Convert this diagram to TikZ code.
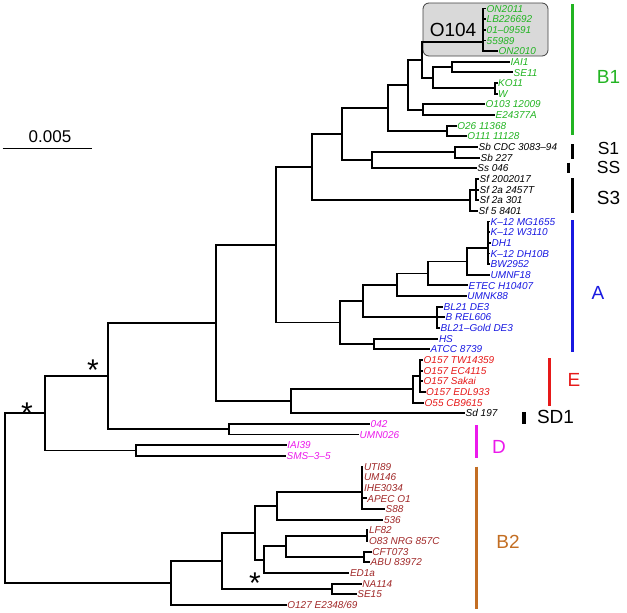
\documentclass[tikz,border=0pt]{standalone}
\usepackage{fontspec}
\setmainfont{Liberation Sans}
\definecolor{cB1}{RGB}{34,180,34}
\definecolor{cA}{RGB}{25,25,225}
\definecolor{cE}{RGB}{230,25,25}
\definecolor{cD}{RGB}{235,25,235}
\definecolor{cB2}{RGB}{160,40,40}
\definecolor{cBtwo}{RGB}{195,110,35}
\newcommand\mkleaf[6]{%
  \coordinate (#2) at (#3,#4);
  \draw[br] (#1) |- (#2);
  \node[leaf,text=#5] (#2l) at (#2) {#6};}
\begin{document}
\begin{tikzpicture}[x=1pt,y=-1pt,
  br/.style={line width=1.9pt},
  leaf/.style={anchor=west,font=\fontsize{10}{10}\selectfont\itshape,inner xsep=0.5pt,inner ysep=0pt,text height=7.2pt,text depth=0pt},
  clade/.style={font=\fontsize{19}{19}\selectfont,inner sep=0pt,text height=13.6pt,text depth=0pt},
  sclade/.style={font=\fontsize{17.5}{17.5}\selectfont,inner sep=0pt,text height=12.5pt,text depth=0pt},
  bar/.style={line width=3pt},
  ast/.style={anchor=base,font=\fontsize{30}{30}\selectfont,inner sep=0pt}]
\useasboundingbox (0,0) rectangle (627,613);
% O104 box
\node[draw=black!75,fill=black!15,rounded corners=6pt,line width=0.8pt,minimum width=125pt,minimum height=53pt,inner sep=0pt] (obox) at (485.5,29.5) {};
\node[clade] (o104lab) at (453,30) {O104};
% internal nodes
\coordinate (root) at (4.7,498.1);
\coordinate (A) at (44.7,413.3);
\coordinate (B) at (108.3,376.1);
\coordinate (C) at (216,323);
\coordinate (F) at (276,244.85);
\coordinate (H) at (311.7,167.2);
\coordinate (I) at (341.7,134.2);
\coordinate (O) at (388.3,108.3);
\coordinate (P) at (408.3,85);
\coordinate (T) at (421.7,60);
\coordinate (o104) at (483,41.7);
\coordinate (U) at (433.3,78);
\coordinate (iai) at (451.7,67.1);
\coordinate (ko) at (495,88.4);
\coordinate (R) at (423.3,109.7);
\coordinate (Q) at (446.7,131);
\coordinate (S) at (371.7,160.3);
\coordinate (Sb) at (455,152.3);
\coordinate (Sf0) at (470,200.2);
\coordinate (Sf1) at (476,189.55);
\coordinate (G) at (340,322.5);
\coordinate (J) at (362.7,301.05);
\coordinate (K) at (396.7,284.75);
\coordinate (L) at (427.7,273.45);
\coordinate (M) at (466.7,261.5);
\coordinate (N) at (487.7,248.3);
\coordinate (BL) at (436.7,317.35);
\coordinate (HSn) at (374,344);
\coordinate (SD) at (290.7,401.2);
\coordinate (En) at (412.7,389.2);
\coordinate (O157) at (420,375.9);
\coordinate (D1) at (229.3,429.2);
\coordinate (D2) at (136,450.5);
\coordinate (B2r) at (171.3,582.85);
\coordinate (V) at (221.7,560.8);
\coordinate (W2) at (255,532.7);
\coordinate (X) at (277.3,505.7);
\coordinate (UTI) at (361.7,491.7);
\coordinate (Y) at (264.3,559.65);
\coordinate (Z) at (286,546.35);
\coordinate (LF) at (366.7,535.7);
\coordinate (CF) at (364.3,557);
\coordinate (NA) at (331.7,588.9);
% internal edges
\foreach \p/\c in {root/A,root/B2r,A/B,A/D2,B/C,B/D1,C/F,C/SD,F/H,F/G,H/I,H/Sf0,I/O,I/S,O/P,O/Q,P/T,P/R,T/o104,T/U,U/iai,U/ko,S/Sb,Sf0/Sf1,G/J,G/HSn,J/K,J/BL,K/L,L/M,M/N,SD/En,En/O157,B2r/V,V/W2,V/NA,W2/X,W2/Y,X/UTI,Y/Z,Z/LF,Z/CF}
  \draw[br] (\p) |- (\c);
% leaves
\mkleaf{o104}{l0}{486}{8.5}{cB1}{ON2011}
\mkleaf{o104}{l1}{486}{19.15}{cB1}{LB226692}
\mkleaf{o104}{l2}{486}{29.8}{cB1}{01–09591}
\mkleaf{o104}{l3}{486}{40.45}{cB1}{55989}
\mkleaf{o104}{l4}{498}{51.1}{cB1}{ON2010}
\mkleaf{iai}{l5}{510}{61.75}{cB1}{IAI1}
\mkleaf{iai}{l6}{513}{72.4}{cB1}{SE11}
\mkleaf{ko}{l7}{497.5}{83.05}{cB1}{KO11}
\mkleaf{ko}{l8}{497.5}{93.7}{cB1}{W}
\mkleaf{R}{l9}{485}{104.35}{cB1}{O103 12009}
\mkleaf{R}{l10}{495}{115}{cB1}{E24377A}
\mkleaf{Q}{l11}{456.7}{125.65}{cB1}{O26 11368}
\mkleaf{Q}{l12}{466.7}{136.3}{cB1}{O111 11128}
\mkleaf{Sb}{l13}{478}{146.95}{black}{Sb CDC 3083–94}
\mkleaf{Sb}{l14}{480}{157.6}{black}{Sb 227}
\mkleaf{S}{l15}{476.7}{168.25}{black}{Ss 046}
\mkleaf{Sf1}{l16}{479}{178.9}{black}{Sf 2002017}
\mkleaf{Sf1}{l17}{479}{189.55}{black}{Sf 2a 2457T}
\mkleaf{Sf1}{l18}{479}{200.2}{black}{Sf 2a 301}
\mkleaf{Sf0}{l19}{478}{210.85}{black}{Sf 5 8401}
\mkleaf{N}{l20}{490}{221.5}{cA}{K–12 MG1655}
\mkleaf{N}{l21}{490}{232.15}{cA}{K–12 W3110}
\mkleaf{N}{l22}{491}{242.8}{cA}{DH1}
\mkleaf{N}{l23}{490}{253.45}{cA}{K–12 DH10B}
\mkleaf{N}{l24}{490}{264.1}{cA}{BW2952}
\mkleaf{M}{l25}{490}{274.75}{cA}{UMNF18}
\mkleaf{L}{l26}{468}{285.4}{cA}{ETEC H10407}
\mkleaf{K}{l27}{466.7}{296.05}{cA}{UMNK88}
\mkleaf{BL}{l28}{443}{306.7}{cA}{BL21 DE3}
\mkleaf{BL}{l29}{445}{317.35}{cA}{B REL606}
\mkleaf{BL}{l30}{440}{328}{cA}{BL21–Gold DE3}
\mkleaf{HSn}{l31}{438.3}{338.65}{cA}{HS}
\mkleaf{HSn}{l32}{430}{349.3}{cA}{ATCC 8739}
\mkleaf{O157}{l33}{423}{359.95}{cE}{O157 TW14359}
\mkleaf{O157}{l34}{423}{370.6}{cE}{O157 EC4115}
\mkleaf{O157}{l35}{423}{381.25}{cE}{O157 Sakai}
\mkleaf{O157}{l36}{425.5}{391.9}{cE}{O157 EDL933}
\mkleaf{En}{l37}{424}{402.55}{cE}{O55 CB9615}
\mkleaf{SD}{l38}{465}{413.2}{black}{Sd 197}
\mkleaf{D1}{l39}{370}{423.85}{cD}{042}
\mkleaf{D1}{l40}{359}{434.5}{cD}{UMN026}
\mkleaf{D2}{l41}{286.7}{445.15}{cD}{IAI39}
\mkleaf{D2}{l42}{286}{455.8}{cD}{SMS–3–5}
\mkleaf{UTI}{l43}{363.3}{466.45}{cB2}{UTI89}
\mkleaf{UTI}{l44}{363.3}{477.1}{cB2}{UM146}
\mkleaf{UTI}{l45}{363.3}{487.75}{cB2}{IHE3034}
\mkleaf{UTI}{l46}{366.7}{498.4}{cB2}{APEC O1}
\mkleaf{UTI}{l47}{385}{509.05}{cB2}{S88}
\mkleaf{X}{l48}{383.3}{519.7}{cB2}{536}
\mkleaf{LF}{l49}{368.3}{530.35}{cB2}{LF82}
\mkleaf{LF}{l50}{368.3}{541}{cB2}{O83 NRG 857C}
\mkleaf{CF}{l51}{371.7}{551.65}{cB2}{CFT073}
\mkleaf{CF}{l52}{370}{562.3}{cB2}{ABU 83972}
\mkleaf{Y}{l53}{349.3}{572.95}{cB2}{ED1a}
\mkleaf{NA}{l54}{361.7}{583.6}{cB2}{NA114}
\mkleaf{NA}{l55}{356.7}{594.25}{cB2}{SE15}
\mkleaf{B2r}{l56}{286.7}{604.9}{cB2}{O127 E2348/69}
% support stars
\node[ast] (st1) at (27,423.5) {*};
\node[ast] (st2) at (93,380) {*};
\node[ast] (st3) at (255,593) {*};
% scale bar
\coordinate (sb1) at (2.7,148.3);
\coordinate (sb2) at (92.3,148.3);
\draw[line width=1pt] (sb1) -- (sb2);
\node[font=\fontsize{17}{17}\selectfont,inner sep=0pt,text height=12.2pt,text depth=0pt] (sbl) at (50,136) {0.005};
% clade bars
\draw[bar,cB1] (572.3,4) -- (572.3,135);
\draw[bar,black] (572.3,144) -- (572.3,159.3);
\draw[bar,black,line width=3.5pt] (568.3,162.7) -- (568.3,173.3);
\draw[bar,black] (572.3,178.3) -- (572.3,213.3);
\draw[bar,cA] (572.3,220) -- (572.3,351.7);
\draw[bar,cE] (549,358.3) -- (549,406);
\draw[bar,black,line width=3.5pt] (524,412.3) -- (524,424);
\draw[bar,cD] (476.7,425) -- (476.7,458.3);
\draw[bar,cBtwo] (476.7,466.7) -- (476.7,609.3);
% clade labels
\node[clade,text=cB1] (cl1) at (608.5,77) {B1};
\node[sclade] (cl2) at (608.5,148.6) {S1};
\node[sclade] (cl3) at (608.5,167.6) {SS};
\node[clade] (cl4) at (608.5,198) {S3};
\node[clade,text=cA] (cl5) at (598,293) {A};
\node[clade,text=cE] (cl6) at (574,380) {E};
\node[clade] (cl7) at (555.5,416.7) {SD1};
\node[clade,text=cD] (cl8) at (499,446.5) {D};
\node[clade,text=cBtwo] (cl9) at (508,541.5) {B2};
\end{tikzpicture}
\end{document}
